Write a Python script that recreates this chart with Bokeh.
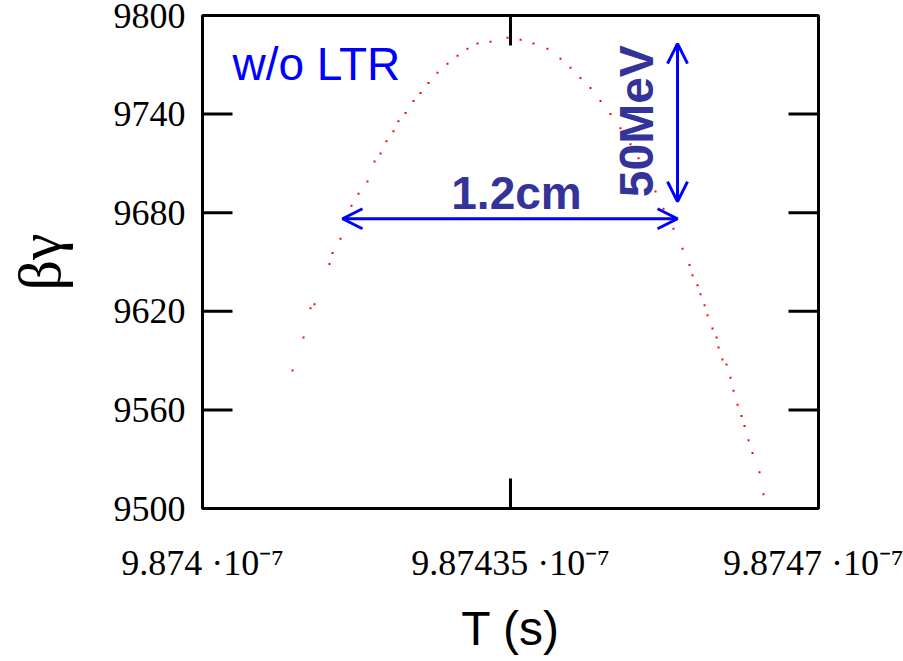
from bokeh.plotting import figure
from bokeh.models import Range1d, LinearAxis, FixedTicker, Label, Arrow, OpenHead, ColumnDataSource
from bokeh.embed import file_html
from bokeh.resources import INLINE
import math

# ---- data (T in units of 1e-7 s) ----
T_e7 = [9.8741023, 9.8741148, 9.8741227, 9.8741273, 9.8741443, 9.8741477, 9.8741568, 9.8741693,
        9.8741773, 9.8741875, 9.8741955, 9.8742023, 9.8742091, 9.8742170, 9.8742227, 9.8742307,
        9.8742398, 9.8742477, 9.8742568, 9.8742670, 9.8742784, 9.8742898, 9.8743011, 9.8743125,
        9.8743273, 9.8743466, 9.8743614, 9.8743761, 9.8743920, 9.8744068, 9.8744182, 9.8744295,
        9.8744409, 9.8744523, 9.8744636, 9.8744750, 9.8744864, 9.8744955, 9.8745057, 9.8745148,
        9.8745239, 9.8745352, 9.8745455, 9.8745534, 9.8745568, 9.8745625, 9.8745659, 9.8745705,
        9.8745739, 9.8745795, 9.8745841, 9.8745864, 9.8745909, 9.8745955, 9.8746000, 9.8746034,
        9.8746080, 9.8746125, 9.8746159, 9.8746205, 9.8746250, 9.8746330, 9.8746375]
beta_gamma = [9583.9, 9604.1, 9621.8, 9624.3, 9648.8, 9655.5, 9664.1, 9684.3,
              9691.6, 9699.0, 9711.2, 9716.1, 9723.5, 9729.6, 9735.7, 9740.6,
              9748.0, 9752.9, 9759.0, 9765.1, 9770.6, 9775.5, 9779.8, 9782.9,
              9784.1, 9786.5, 9785.3, 9782.9, 9779.8, 9773.7, 9768.2, 9762.0,
              9755.9, 9748.0, 9740.0, 9731.4, 9721.6, 9713.1, 9703.3, 9692.9,
              9682.4, 9670.2, 9658.0, 9648.2, 9642.0, 9635.9, 9630.4, 9623.7,
              9617.6, 9609.6, 9604.1, 9598.0, 9590.6, 9587.6, 9579.6, 9571.6,
              9563.1, 9556.3, 9550.2, 9541.6, 9533.7, 9522.0, 9508.6]

x_ticks = [9.874, 9.87435, 9.8747]
x_tick_labels = ["9.874 ·10⁻⁷", "9.87435 ·10⁻⁷", "9.8747 ·10⁻⁷"]
y_ticks = [9500, 9560, 9620, 9680, 9740, 9800]
y_tick_labels = ["9500", "9560", "9620", "9680", "9740", "9800"]

x_title = "T (s)"
y_title = "βγ"
note_label = "w/o LTR"
width_label = "1.2cm"
height_label = "50MeV"

BLUE = "#0000FF"
NAVY = "#333399"
X0, X1 = 9.874, 9.8747
Y0, Y1 = 9500, 9800

p = figure(width=903, height=661, x_range=Range1d(X0, X1), y_range=Range1d(Y0, Y1),
           x_axis_location=None, y_axis_location=None,
           output_backend="svg", toolbar_location=None,
           min_border_left=202, min_border_right=85, min_border_top=15, min_border_bottom=153)
p.xgrid.visible = False
p.ygrid.visible = False
p.outline_line_color = "black"
p.outline_line_width = 3
p.background_fill_color = "white"
p.border_fill_color = "white"


def label_axis(ax):
    ax.axis_line_color = None
    ax.major_tick_line_color = None
    ax.minor_tick_line_color = None
    ax.major_tick_in = 0
    ax.major_tick_out = 0
    ax.minor_tick_in = 0
    ax.minor_tick_out = 0


xb = LinearAxis(ticker=FixedTicker(ticks=x_ticks),
                major_label_overrides=dict(zip(x_ticks, x_tick_labels)))
label_axis(xb)
xb.major_label_text_font = "Liberation Serif"
xb.major_label_text_font_size = "36px"
xb.major_label_text_color = "black"
xb.major_label_standoff = 34
xb.axis_label = x_title
xb.axis_label_text_font = "Liberation Sans"
xb.axis_label_text_font_size = "48px"
xb.axis_label_text_font_style = "normal"
xb.axis_label_text_color = "black"
xb.axis_label_standoff = 16
p.add_layout(xb, "below")

yl = LinearAxis(ticker=FixedTicker(ticks=y_ticks),
                major_label_overrides=dict(zip(y_ticks, y_tick_labels)))
label_axis(yl)
yl.major_label_text_font = "Liberation Serif"
yl.major_label_text_font_size = "36px"
yl.major_label_text_color = "black"
yl.major_label_standoff = 17
yl.axis_label = y_title
yl.axis_label_text_font = "Liberation Serif"
yl.axis_label_text_font_size = "60px"
yl.axis_label_text_font_style = "normal"
yl.axis_label_text_color = "black"
yl.axis_label_standoff = 38
p.add_layout(yl, "left")

# inward tick marks on all four sides
tick_kw = dict(length=30, length_units="screen", line_width=3, line_color="black")
p.ray(x=[X0] * len(y_ticks), y=y_ticks, angle=0, **tick_kw)
p.ray(x=[X1] * len(y_ticks), y=y_ticks, angle=math.pi, **tick_kw)
p.ray(x=x_ticks, y=[Y0] * len(x_ticks), angle=math.pi / 2, **tick_kw)
p.ray(x=x_ticks, y=[Y1] * len(x_ticks), angle=-math.pi / 2, **tick_kw)

src = ColumnDataSource(dict(t=T_e7, bg=beta_gamma))
p.scatter("t", "bg", source=src, marker="square", size=2, fill_color="#FF0000", line_color=None)

# annotations
p.add_layout(Label(x=9.874034, y=9770.6, text=note_label, text_font="Liberation Sans",
                   text_font_size="46px", text_color=BLUE, text_align="left", text_baseline="alphabetic"))
p.add_layout(Label(x=9.8743568, y=9692.2, text=width_label, text_font="Liberation Sans",
                   text_font_size="46px", text_font_style="bold", text_color=NAVY,
                   text_align="center", text_baseline="alphabetic"))
p.add_layout(Label(x=9.8744932, y=9735.7, text=height_label, text_font="Liberation Sans",
                   text_font_size="48px", text_font_style="bold", text_color=NAVY, angle=math.pi / 2,
                   text_align="center", text_baseline="middle"))

p.add_layout(Arrow(start=OpenHead(size=20, line_color=BLUE, line_width=3),
                   end=OpenHead(size=20, line_color=BLUE, line_width=3),
                   x_start=9.8741591, y_start=9676.3, x_end=9.8745398, y_end=9676.3,
                   line_color=BLUE, line_width=3))
p.add_layout(Arrow(start=OpenHead(size=20, line_color=BLUE, line_width=3),
                   end=OpenHead(size=20, line_color=BLUE, line_width=3),
                   x_start=9.8745398, y_start=9782.9, x_end=9.8745398, y_end=9686.7,
                   line_color=BLUE, line_width=3))

open("out.html", "w").write(file_html(p, INLINE))
